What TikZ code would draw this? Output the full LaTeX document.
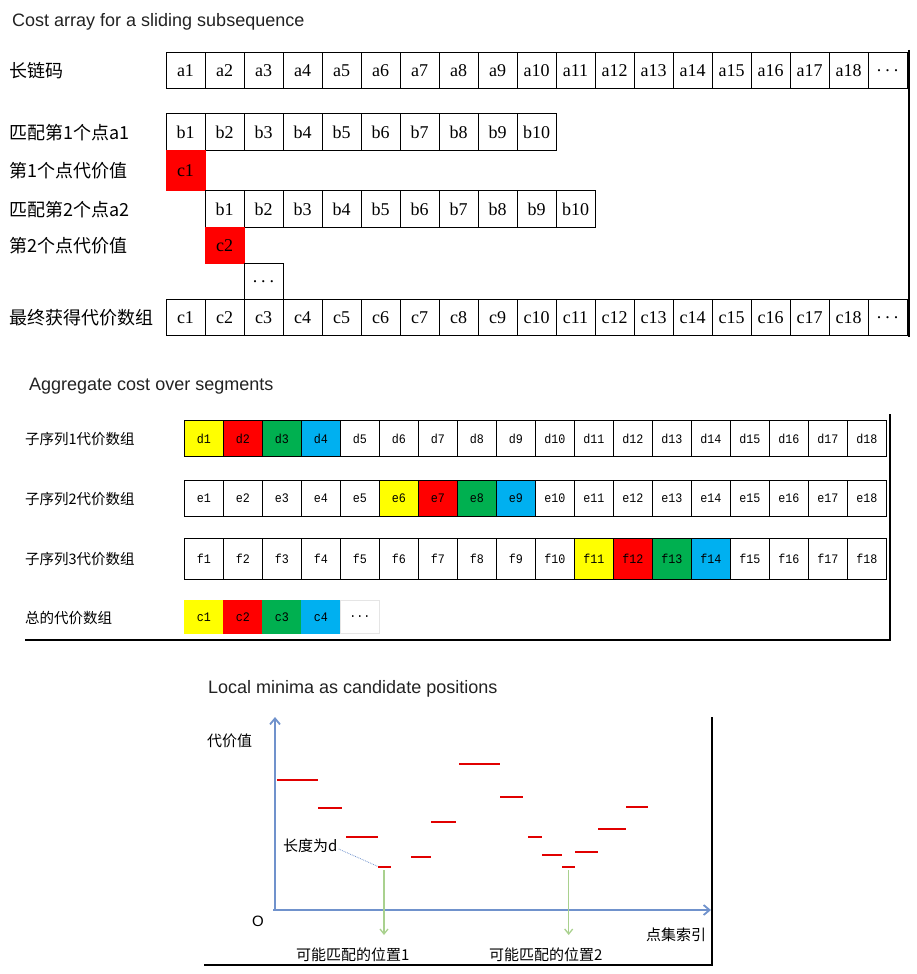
\documentclass[tikz,border=0pt]{standalone}
\usepackage{fontspec}
\setmainfont{Liberation Serif}
\newfontfamily\cjkfont{Noto Sans CJK SC}
\newfontfamily\sansfont{Liberation Sans}
\newfontfamily\monofont[FakeStretch=0.9]{Liberation Mono}
\usetikzlibrary{arrows.meta}
\definecolor{cyel}{RGB}{255,255,0}
\definecolor{cred}{RGB}{255,0,0}
\definecolor{cgrn}{RGB}{0,176,80}
\definecolor{cblu}{RGB}{0,176,240}
\definecolor{axisblue}{RGB}{112,146,204}
\definecolor{arrgreen}{RGB}{169,209,142}
\definecolor{segred}{RGB}{225,0,0}
\definecolor{titlegray}{RGB}{34,34,34}
\newcommand\mydots{.\kern4pt.\kern4pt.}
\tikzset{
  titletext/.style={font=\sansfont\fontsize{18}{20}\selectfont, text=titlegray, anchor=base west, inner sep=0},
  bigcell/.style={draw, line width=0.9pt, minimum width=39pt, minimum height=36.5pt, inner sep=0, outer sep=0, font=\fontsize{18}{20}\selectfont},
  smallcell/.style={draw, line width=0.9pt, minimum width=39pt, minimum height=36pt, inner sep=0, outer sep=0, font=\monofont\fontsize{13}{15}\selectfont},
  labone/.style={anchor=west, inner sep=0, font=\cjkfont\fontsize{18}{20}\selectfont},
  labtwo/.style={anchor=west, inner sep=0, font=\cjkfont\fontsize{14.5}{16}\selectfont},
  labthree/.style={anchor=west, inner sep=0, font=\cjkfont\fontsize{15}{17}\selectfont},
  seg/.style={segred, line width=2pt},
  axisline/.style={axisblue, line width=1.8pt, -{Straight Barb[length=6pt,width=10pt]}},
  marker/.style={arrgreen, line width=1.3pt, -{Straight Barb[length=5pt,width=8pt]}}
}
\begin{document}
\begin{tikzpicture}[x=1pt,y=-1pt]
\useasboundingbox (0,0) rectangle (917,974);

% ---------- Section 1 ----------
\node[titletext] (t1) at (12,26.5) {Cost array for a sliding subsequence};

\node[labone] (l1) at (9,71) {长链码};
\foreach \i in {1,...,18} \node[bigcell] (a\i) at ({166+(\i-0.5)*39},70.3) {a\i};
\node[bigcell] (adots) at ({166+18.5*39},70.3) {\mydots};

\node[labone] (l2) at (9,133) {匹配第1个点a1};
\foreach \i in {1,...,10} \node[bigcell] (b\i) at ({166+(\i-0.5)*39},132) {b\i};

\node[labone] (l3) at (9,171) {第1个点代价值};
\node[bigcell, fill=cred, draw=cred, minimum height=40pt] (cone) at (185.5,170.5) {c1};

\node[labone] (l4) at (9,210) {匹配第2个点a2};
\foreach \i in {1,...,10} \node[bigcell] (bb\i) at ({205+(\i-0.5)*39},209) {b\i};

\node[labone] (l5) at (9,246) {第2个点代价值};
\node[bigcell, fill=cred, draw=cred, minimum height=36pt] (ctwo) at (224.5,245.3) {c2};

\node[bigcell, minimum height=36pt] (midots) at (263.5,281.3) {\mydots};

\node[labone] (l6) at (9,318) {最终获得代价数组};
\foreach \i in {1,...,18} \node[bigcell] (c\i) at ({166+(\i-0.5)*39},317.4) {c\i};
\node[bigcell] (cdots) at ({166+18.5*39},317.4) {\mydots};

\coordinate (vonetop) at (908.5,50);
\coordinate (vonebot) at (908.5,337);
\draw[line width=2pt] (vonetop) -- (vonebot);

% ---------- Section 2 ----------
\node[titletext] (t2) at (29,390.5) {Aggregate cost over segments};

\node[labtwo] (m1) at (25,439) {子序列1代价数组};
\foreach \i/\c in {1/cyel,2/cred,3/cgrn,4/cblu,5/white,6/white,7/white,8/white,9/white,10/white,11/white,12/white,13/white,14/white,15/white,16/white,17/white,18/white}
  \node[smallcell, fill=\c] (d\i) at ({184.3+(\i-0.5)*39},438.4) {d\i};

\node[labtwo] (m2) at (25,499) {子序列2代价数组};
\foreach \i/\c in {1/white,2/white,3/white,4/white,5/white,6/cyel,7/cred,8/cgrn,9/cblu,10/white,11/white,12/white,13/white,14/white,15/white,16/white,17/white,18/white}
  \node[smallcell, fill=\c] (e\i) at ({184.3+(\i-0.5)*39},498.4) {e\i};

\node[labtwo] (m3) at (25,559) {子序列3代价数组};
\foreach \i/\c in {1/white,2/white,3/white,4/white,5/white,6/white,7/white,8/white,9/white,10/white,11/cyel,12/cred,13/cgrn,14/cblu,15/white,16/white,17/white,18/white}
  \node[smallcell, fill=\c, minimum height=41pt] (f\i) at ({184.3+(\i-0.5)*39},558.7) {f\i};

\node[labtwo] (m4) at (25,618) {总的代价数组};
\foreach \i/\c in {1/cyel,2/cred,3/cgrn,4/cblu}
  \node[smallcell, fill=\c, draw=\c, minimum height=32.6pt] (tc\i) at ({184.3+(\i-0.5)*39},617) {c\i};
\node[smallcell, draw=gray!20, minimum height=32.6pt] (tcdots) at ({184.3+4.5*39},617) {...};

\coordinate (htwol) at (25,640);
\coordinate (htwor) at (890,640);
\coordinate (vtwotop) at (890,414);
\coordinate (vtwobot) at (890,641);
\draw[line width=1.5pt] (htwol) -- (htwor);
\draw[line width=2.5pt] (vtwotop) -- (vtwobot);

% ---------- Section 3 ----------
\node[titletext] (t3) at (208,693.3) {Local minima as candidate positions};

\coordinate (origin) at (275,910);
\coordinate (ytop) at (275,717);
\coordinate (xstart) at (273,910);
\coordinate (xend) at (711,910);
\draw[axisline] (origin) -- (ytop);
\draw[axisline] (xstart) -- (xend);

\draw[line width=1.2pt] (204,965) -- (712,965) -- (712,717);

\node[labthree] (yl) at (207,741) {代价值};
\node[anchor=center, inner sep=0, font=\sansfont\fontsize{15}{17}\selectfont] (o) at (258,921) {O};
\node[labthree] (xl) at (646,935) {点集索引};
\node[labthree] (pos1) at (296,955) {可能匹配的位置1};
\node[labthree] (pos2) at (489,955) {可能匹配的位置2};
\node[labthree] (ld) at (283,846) {长度为d};

\draw[seg] (277.3,779.7) -- (318,779.7);
\draw[seg] (318.3,807.7) -- (342,807.7);
\draw[seg] (346,836.7) -- (378,836.7);
\draw[seg] (378,866.7) -- (391,866.7);
\draw[seg] (411,856.7) -- (431,856.7);
\draw[seg] (431,822) -- (456,822);
\draw[seg] (459,763.7) -- (500,763.7);
\draw[seg] (500,796.7) -- (523,796.7);
\draw[seg] (528,836.7) -- (542,836.7);
\draw[seg] (542,854.7) -- (562,854.7);
\draw[seg] (562,866.7) -- (575,866.7);
\draw[seg] (575,851.7) -- (598,851.7);
\draw[seg] (598,828.7) -- (626,828.7);
\draw[seg] (626,806.7) -- (648,806.7);

\coordinate (segmin) at (378,866.5);
\draw[axisblue, densely dotted, line width=0.8pt] ([xshift=1pt,yshift=-3pt]ld.east) -- (segmin);

\coordinate (pa) at (384,870);
\coordinate (pb) at (384,935);
\coordinate (qa) at (568.7,870);
\coordinate (qb) at (568.7,935);
\draw[marker] (pa) -- (pb);
\draw[marker] (qa) -- (qb);
\end{tikzpicture}
\end{document}
